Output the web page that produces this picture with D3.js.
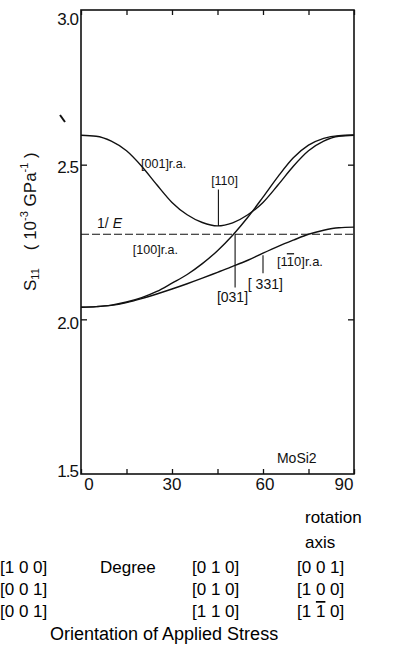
<!DOCTYPE html>
<html>
<head>
<meta charset="utf-8">
<script src="https://cdn.jsdelivr.net/npm/d3@7"></script>
<style>
  body { margin: 0; background: #fff; }
  svg { display: block; font-family: "Liberation Sans", Arial, sans-serif; }
</style>
</head>
<body>
<svg></svg>
<script>
// S11 of MoSi2 against angle, three rotation axes
const angles = [0, 5, 10, 15, 20, 25, 30, 35, 40, 45, 50, 55, 60, 65, 70, 75, 80, 85, 90];
const s001ra = [2.595, 2.592, 2.576, 2.545, 2.495, 2.435, 2.378, 2.338, 2.313, 2.302, 2.312, 2.338, 2.378, 2.435, 2.495, 2.545, 2.576, 2.592, 2.595];
const s100ra = [2.039, 2.041, 2.046, 2.056, 2.070, 2.090, 2.117, 2.145, 2.180, 2.222, 2.272, 2.330, 2.395, 2.462, 2.522, 2.563, 2.585, 2.594, 2.596];
const s110ra = [2.039, 2.041, 2.045, 2.054, 2.067, 2.082, 2.098, 2.115, 2.133, 2.152, 2.171, 2.191, 2.214, 2.236, 2.256, 2.275, 2.288, 2.296, 2.298];
const invE = 2.275;

const xTicks = [0, 15, 30, 45, 60, 75, 90];
const xLabels = [0, 30, 60, 90];
const yTicks = [2.0, 2.5];
const yLabels = ["1.5", "2.0", "2.5", "3.0"];

// table under the axis
const colA = ["[1 0 0]", "[0 0 1]", "[0 0 1]"];
const colB = ["[0 1 0]", "[0 1 0]", "[1 1 0]"];
const colC = ["[0 0 1]", "[1 0 0]", "[1 1 0]"];

const width = 394, height = 661;
const svg = d3.select("svg").attr("width", width).attr("height", height);

const x = d3.scaleLinear().domain([0, 90]).range([81, 354]);
const y = d3.scaleLinear().domain([1.5, 3.0]).range([474, 10]);

// frame
svg.append("rect")
  .attr("x", x(0)).attr("y", y(3.0))
  .attr("width", x(90) - x(0)).attr("height", y(1.5) - y(3.0))
  .attr("fill", "none").attr("stroke", "#111").attr("stroke-width", 1.6);

// inward ticks
const tickStyle = g => { g.select(".domain").remove(); g.selectAll("line").attr("stroke", "#111").attr("stroke-width", 1.3); };
svg.append("g").attr("transform", `translate(0,${y(1.5)})`)
  .call(d3.axisBottom(x).tickValues(xTicks).tickSize(-5).tickFormat("")).call(tickStyle);
svg.append("g").attr("transform", `translate(0,${y(3.0)})`)
  .call(d3.axisTop(x).tickValues(xTicks).tickSize(-5).tickFormat("")).call(tickStyle);
svg.append("g").attr("transform", `translate(${x(0)},0)`)
  .call(d3.axisLeft(y).tickValues(yTicks).tickSize(-6).tickFormat("")).call(tickStyle);
svg.append("g").attr("transform", `translate(${x(90)},0)`)
  .call(d3.axisRight(y).tickValues(yTicks).tickSize(-6).tickFormat("")).call(tickStyle);

// tick labels
const xdx = [8, 0, 2, -10];
svg.selectAll(".xl").data(xLabels).enter().append("text")
  .attr("x", (d, i) => x(d) + xdx[i]).attr("y", y(1.5) + 16)
  .attr("text-anchor", "middle").attr("font-size", 17).attr("fill", "#111")
  .text(d => d);
const ydy = [3, 10, 8, 15];
svg.selectAll(".yl").data(yLabels).enter().append("text")
  .attr("x", x(0) - 3).attr("y", (d, i) => y(+d) + ydy[i])
  .attr("text-anchor", "end").attr("font-size", 17).attr("fill", "#111")
  .attr("letter-spacing", -1)
  .text(d => d);

// y axis title
const yt = svg.append("text")
  .attr("transform", "translate(36,291) rotate(-90)")
  .attr("font-size", 17).attr("fill", "#111");
yt.append("tspan").text("S");
yt.append("tspan").attr("font-size", 11).attr("dy", 3).text("11");
yt.append("tspan").attr("dy", -3).attr("dx", 18).text("( 10");
yt.append("tspan").attr("font-size", 11).attr("dy", -8).text("-3");
yt.append("tspan").attr("dy", 8).text(" GPa");
yt.append("tspan").attr("font-size", 11).attr("dy", -8).text("-1");
yt.append("tspan").attr("dy", 8).text(" )");

// stray mark left of the axis
svg.append("line").attr("x1", 60).attr("y1", 115).attr("x2", 65).attr("y2", 122)
  .attr("stroke", "#111").attr("stroke-width", 2);

// 1/E dashed line
svg.append("line")
  .attr("x1", x(0)).attr("x2", x(90)).attr("y1", y(invE)).attr("y2", y(invE))
  .attr("stroke", "#111").attr("stroke-width", 1.2).attr("stroke-dasharray", "8,3");

// curves
const line = d3.line().x(d => x(d[0])).y(d => y(d[1])).curve(d3.curveMonotoneX);
[s001ra, s100ra, s110ra].forEach(s => {
  svg.append("path")
    .attr("d", line(angles.map((a, i) => [a, s[i]])))
    .attr("fill", "none").attr("stroke", "#111").attr("stroke-width", 1.4);
});

// leader lines
const leaders = [[45.3, 2.42, 2.302], [50.8, invE, 2.103], [60, 2.207, 2.149]];
leaders.forEach(l => {
  svg.append("line").attr("x1", x(l[0])).attr("x2", x(l[0])).attr("y1", y(l[1])).attr("y2", y(l[2]))
    .attr("stroke", "#111").attr("stroke-width", 1.1);
});

// curve labels
const ann = (a, v, t, fs) => svg.append("text").attr("x", x(a)).attr("y", y(v))
  .attr("font-size", fs || 12.5).attr("fill", "#111").text(t);
ann(19.8, 2.489, "[001]r.a.");
ann(42.9, 2.434, "[110]");
ann(17.1, 2.211, "[100]r.a.");
ann(44.8, 2.056, "[031]", 14);
ann(55, 2.098, "[ 331]", 14);
const t110 = svg.append("text").attr("x", x(64.6)).attr("y", y(2.172))
  .attr("font-size", 13).attr("fill", "#111");
t110.append("tspan").text("[1");
t110.append("tspan").attr("text-decoration", "overline").text("1");
t110.append("tspan").text("0]r.a.");
const te = svg.append("text").attr("x", x(5.3)).attr("y", y(2.295))
  .attr("font-size", 14).attr("fill", "#111");
te.append("tspan").text("1/ ");
te.append("tspan").attr("font-style", "italic").text("E");
ann(64.6, 1.536, "MoSi2", 14);

// orientation table
const fs = 17;
const rowY = [573, 595, 617];
svg.append("text").attr("x", 305).attr("y", 523).attr("font-size", fs).text("rotation");
svg.append("text").attr("x", 305).attr("y", 548).attr("font-size", fs).text("axis");
svg.append("text").attr("x", 100).attr("y", rowY[0]).attr("font-size", fs).text("Degree");
const col = (arr, x0, bar) => arr.forEach((t, i) => {
  const tx = svg.append("text").attr("x", x0).attr("y", rowY[i]).attr("font-size", fs);
  if (bar && i === 2) {
    tx.append("tspan").text("[1 ");
    tx.append("tspan").attr("text-decoration", "overline").text("1");
    tx.append("tspan").text(" 0]");
  } else tx.text(t);
});
col(colA, 0, false);
col(colB, 192, false);
col(colC, 297, true);
svg.append("text").attr("x", 50).attr("y", 640).attr("font-size", 18).text("Orientation of Applied Stress");
</script>
</body>
</html>
